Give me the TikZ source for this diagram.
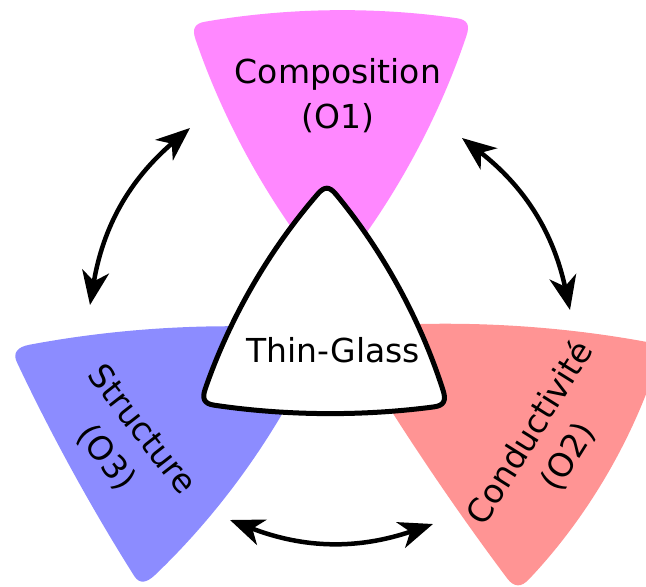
\documentclass[tikz,border=0pt]{standalone}
\usepackage{fontspec}
\setmainfont{DejaVu Sans}
\usetikzlibrary{calc,arrows.meta}
\definecolor{pinkO}{HTML}{FF88FF}
\definecolor{blueO}{HTML}{8C8CFF}
\definecolor{redO}{HTML}{FF9494}
\tikzset{
  lbl/.style={font=\fontsize{33}{45}\selectfont, align=center, inner sep=0pt},
  dblarrow/.style={line width=4.5pt, {Stealth[length=34pt,width=27pt,inset=10pt]}-{Stealth[length=34pt,width=27pt,inset=10pt]}},
  core/.style={fill=white, draw=black, line width=5pt, line join=round},
}
% #1 name, #2 options, #3 A, #4 B, #5 C (visually counter-clockwise),
% #6 #7 #8 bulge angles of sides AB, BC, CA, #9 corner fraction
\newcommand{\pickshape}[9]{%
  \coordinate (#1sab) at ($(#3)!#9!(#4)$);
  \coordinate (#1eab) at ($(#4)!#9!(#3)$);
  \coordinate (#1sbc) at ($(#4)!#9!(#5)$);
  \coordinate (#1ebc) at ($(#5)!#9!(#4)$);
  \coordinate (#1sca) at ($(#5)!#9!(#3)$);
  \coordinate (#1eca) at ($(#3)!#9!(#5)$);
  \path[#2] (#1sab)
    .. controls ($(#1sab)!0.33!-#6:(#1eab)$) and ($(#1eab)!0.33!#6:(#1sab)$) .. (#1eab)
    .. controls ($(#1eab)!0.55!#6:(#4)$) and ($(#1sbc)!0.55!-#7:(#4)$) .. (#1sbc)
    .. controls ($(#1sbc)!0.33!-#7:(#1ebc)$) and ($(#1ebc)!0.33!#7:(#1sbc)$) .. (#1ebc)
    .. controls ($(#1ebc)!0.55!#7:(#5)$) and ($(#1sca)!0.55!-#8:(#5)$) .. (#1sca)
    .. controls ($(#1sca)!0.33!-#8:(#1eca)$) and ($(#1eca)!0.33!#8:(#1sca)$) .. (#1eca)
    .. controls ($(#1eca)!0.55!#8:(#3)$) and ($(#1sab)!0.55!-#6:(#3)$) .. (#1sab) -- cycle;
}
\begin{document}
\begin{tikzpicture}[x=1pt,y=-1pt]
\useasboundingbox (0,0) rectangle (646,587);
\clip (0,0) rectangle (646,587);
% corners
\coordinate (mA) at (186,22);
\coordinate (mB) at (331,285);
\coordinate (mC) at (476,18);
\coordinate (bA) at (8,346);
\coordinate (bB) at (143,592);
\coordinate (bC) at (330,328);
\coordinate (rA) at (338,326);
\coordinate (rB) at (519,596);
\coordinate (rC) at (668,343);
\coordinate (wA) at (327,178);
\coordinate (wB) at (196,405);
\coordinate (wC) at (452,407);
% coloured shapes
\pickshape{m}{fill=pinkO}{mA}{mB}{mC}{10}{10}{9}{0.065}
\pickshape{b}{fill=blueO}{bA}{bB}{bC}{3.5}{11}{7.5}{0.065}
\pickshape{r}{fill=redO}{rA}{rB}{rC}{3}{13}{7.5}{0.065}
% centre
\pickshape{w}{core}{wA}{wB}{wC}{11}{8}{11}{0.07}
% labels
\node[lbl] (comp) at (338,96) {Composition\\(O1)};
\node[lbl, anchor=base] (thin) at (333,362) {Thin-Glass};
\node[lbl, rotate=-52] (struc) at (124,444) {Structure\\(O3)};
\node[lbl, rotate=58] (cond) at (549,445) {Conductivité\\(O2)};
% arrows
\coordinate (la1) at (90,305);
\coordinate (la2) at (190,128);
\coordinate (ra1) at (462,138);
\coordinate (ra2) at (570,310);
\coordinate (ba1) at (433,524);
\coordinate (ba2) at (230,520);
\draw[dblarrow] (la1) to[bend left=20] (la2);
\draw[dblarrow] (ra1) to[bend left=20] (ra2);
\draw[dblarrow] (ba1) to[bend left=20] (ba2);
\end{tikzpicture}
\end{document}
